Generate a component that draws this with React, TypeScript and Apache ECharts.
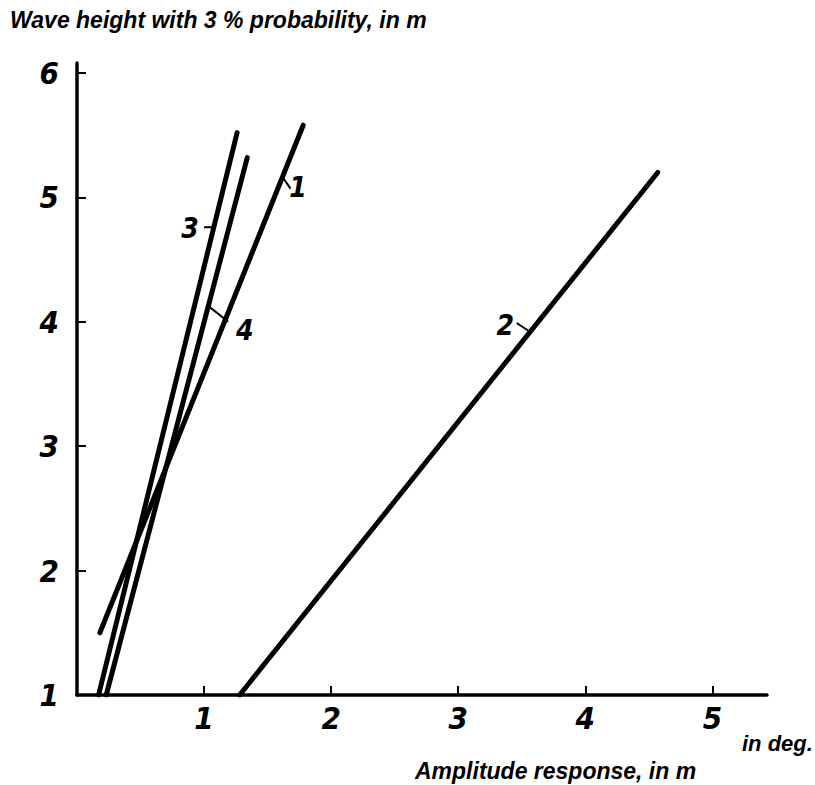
import React, { useEffect, useRef } from "react";
import * as echarts from "echarts";

// Curves: [amplitude response, wave height]
const curve1: number[][] = [[0.18, 1.5], [1.78, 5.58]];
const curve2: number[][] = [[1.28, 1.0], [4.57, 5.2]];
const curve3: number[][] = [[0.17, 1.0], [1.26, 5.52]];
const curve4: number[][] = [[0.23, 1.0], [1.34, 5.32]];

// Leader lines for curve labels
const leader1: number[][] = [[1.62, 5.16], [1.68, 5.07]];
const leader2: number[][] = [[3.46, 3.99], [3.55, 3.93]];
const leader3: number[][] = [[1.0, 4.76], [1.08, 4.76]];
const leader4: number[][] = [[1.03, 4.13], [1.19, 4.0]];

const curveLabels = [
  { name: "1", value: [1.74, 5.08] },
  { name: "2", value: [3.37, 3.97] },
  { name: "3", value: [0.89, 4.75] },
  { name: "4", value: [1.32, 3.93] },
];

const xTicks = [1, 2, 3, 4, 5];
const yTicks = [1, 2, 3, 4, 5, 6];

const yTitle = "Wave height with 3 % probability, in m";
const xTitle = "Amplitude response, in m";
const xUnit = "in deg.";

const tickFont = "'DejaVu Sans Condensed', 'Liberation Sans Narrow', 'Liberation Sans', sans-serif";
const textFont = "'Liberation Sans', Arial, sans-serif";

export default function App() {
  const ref = useRef<HTMLDivElement>(null);
  useEffect(() => {
    if (!ref.current) return;
    const chart = echarts.init(ref.current, undefined, { renderer: "svg" });
    const curveStyle = { color: "#000", width: 5, cap: "round" as const };
    const leaderStyle = { color: "#000", width: 2 };
    const mkCurve = (data: number[][]) => ({
      type: "line",
      data,
      symbol: "none",
      lineStyle: curveStyle,
      silent: true,
    });
    const mkLeader = (data: number[][]) => ({
      type: "line",
      data,
      symbol: "none",
      lineStyle: leaderStyle,
      silent: true,
    });
    chart.setOption({
      animation: false,
      backgroundColor: "#fff",
      grid: { left: 77, top: 63, right: 48, bottom: 90 },
      xAxis: {
        type: "value",
        min: 0,
        max: 5.43,
        interval: 1,
        splitLine: { show: false },
        axisLine: { show: true, lineStyle: { color: "#000", width: 3.5 } },
        axisTick: {
          show: true,
          inside: true,
          length: 9,
          lineStyle: { color: "#000", width: 2 },
          customValues: xTicks,
        },
        axisLabel: {
          customValues: xTicks,
          color: "#000",
          fontFamily: tickFont,
          fontStyle: "italic",
          fontWeight: "bold",
          fontSize: 31,
          margin: 7,
        },
      },
      yAxis: {
        type: "value",
        min: 1,
        max: 6.08,
        interval: 1,
        splitLine: { show: false },
        axisLine: { show: true, lineStyle: { color: "#000", width: 3.5 } },
        axisTick: {
          show: true,
          inside: true,
          length: 9,
          lineStyle: { color: "#000", width: 2 },
          customValues: yTicks,
        },
        axisLabel: {
          customValues: yTicks,
          color: "#000",
          fontFamily: tickFont,
          fontStyle: "italic",
          fontWeight: "bold",
          fontSize: 31,
          margin: 18,
        },
      },
      graphic: [
        {
          type: "text",
          left: 10,
          top: 8,
          style: {
            text: yTitle,
            fill: "#000",
            font: `italic bold 23px ${textFont}`,
          },
        },
        {
          type: "text",
          left: 742,
          top: 732,
          style: {
            text: xUnit,
            fill: "#000",
            font: `italic bold 22px ${textFont}`,
          },
        },
        {
          type: "text",
          left: 415,
          top: 759,
          style: {
            text: xTitle,
            fill: "#000",
            font: `italic bold 23px ${textFont}`,
          },
        },
      ],
      series: [
        mkCurve(curve1),
        mkCurve(curve2),
        mkCurve(curve3),
        mkCurve(curve4),
        mkLeader(leader1),
        mkLeader(leader2),
        mkLeader(leader3),
        mkLeader(leader4),
        {
          type: "scatter",
          data: curveLabels,
          symbolSize: 1,
          itemStyle: { color: "#fff", opacity: 1 },
          silent: true,
          label: {
            show: true,
            position: "inside",
            formatter: (p: any) => p.name,
            color: "#000",
            textBorderWidth: 0,
            opacity: 1,
            fontFamily: tickFont,
            fontStyle: "italic",
            fontWeight: "bold",
            fontSize: 28,
          },
        },
      ],
    });
    return () => chart.dispose();
  }, []);
  return (
    <div
      ref={ref}
      style={{ position: "absolute", left: 0, top: 0, width: 815, height: 785 }}
    />
  );
}
